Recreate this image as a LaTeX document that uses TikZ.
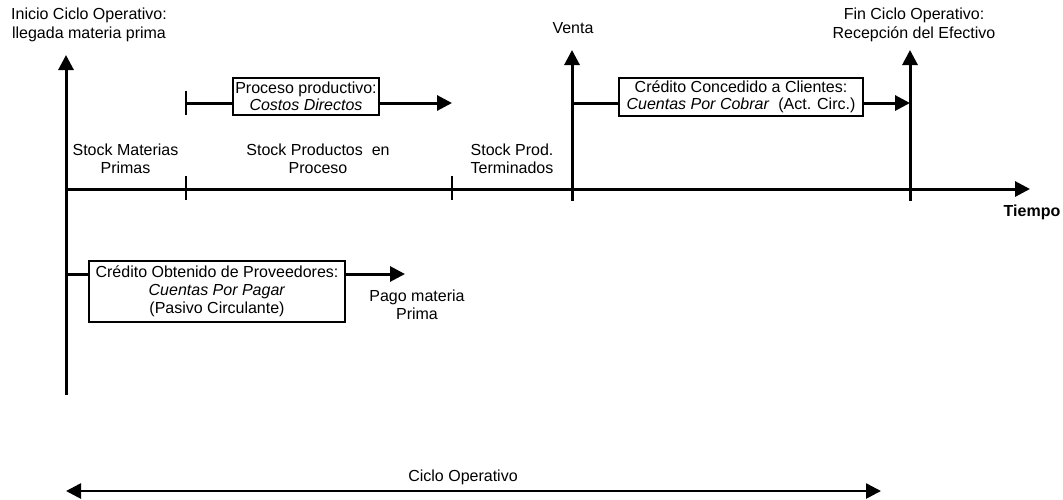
\documentclass[tikz,border=0pt]{standalone}
\usepackage{fontspec}
\setmainfont{Liberation Sans}
\usetikzlibrary{arrows.meta}

\begin{document}
\begin{tikzpicture}[x=0.5pt,y=-0.5pt,
  ax/.style={line width=1.5pt},
  tip/.style={-{Triangle[length=7.5pt,width=7.5pt]}},
  bitip/.style={{Triangle[length=7.5pt,width=7.5pt]}-},
  lbl/.style={font=\fontsize{8}{9}\selectfont, align=center, inner sep=0pt},
  hdr/.style={font=\fontsize{8}{9.5}\selectfont, align=center, inner sep=0pt},
  box/.style={draw, line width=1pt, fill=white, align=center, inner sep=0pt,
              font=\fontsize{8}{8.5}\selectfont}
]
\useasboundingbox (0,0) rectangle (1063,499);

% main axes
\coordinate (axB) at (66,395);
\coordinate (axT) at (66,55);
\coordinate (tS) at (66,189);
\coordinate (tE) at (1030,189);
\draw[ax,tip] (axB) -- (axT);
\draw[ax,tip] (tS) -- (tE);

% ticks on the time axis
\coordinate (k1a) at (186,176); \coordinate (k1b) at (186,200);
\coordinate (k2a) at (452,176); \coordinate (k2b) at (452,200);
\draw[line width=1.2pt] (k1a) -- (k1b);
\draw[line width=1.2pt] (k2a) -- (k2b);

% sale and cash reception events
\coordinate (vB) at (572,201); \coordinate (vT) at (572,50);
\coordinate (fB) at (910,201); \coordinate (fT) at (910,50);
\draw[ax,tip] (vB) -- (vT);
\draw[ax,tip] (fB) -- (fT);

% headings
\node[hdr] (inicio) at (89,24.5) {Inicio Ciclo Operativo:\\llegada materia prima};
\node[hdr] (venta) at (573,28) {Venta};
\node[hdr] (fin) at (914,24.5) {Fin Ciclo Operativo:\\Recepción del Efectivo};
\node[font=\fontsize{8}{9}\selectfont\bfseries, inner sep=0pt] (tiempo) at (1032,212) {Tiempo};

% stock stages
\node[lbl] (smp) at (125.5,159) {Stock Materias\\Primas};
\node[lbl] (spp) at (318,159) {Stock Productos\ \ en\\Proceso};
\node[lbl] (spt) at (512,159) {Stock Prod.\\Terminados};

% production process
\coordinate (pTa) at (186,91); \coordinate (pTb) at (186,115);
\coordinate (pS) at (186,103); \coordinate (pE) at (452,103);
\node[box, minimum width=73pt, minimum height=18.5pt] (pbox) at (306,96.5)
  {Proceso productivo:\\\textit{Costos Directos}};
\draw[line width=1.2pt] (pTa) -- (pTb);
\draw[ax] (pS) -- (pS -| pbox.west);
\draw[ax,tip] (pS -| pbox.east) -- (pE);

% credit granted to customers
\coordinate (cS) at (572,103); \coordinate (cE) at (910,103);
\node[box, minimum width=122pt, minimum height=19pt] (cbox) at (741,97)
  {Crédito Concedido a Clientes:\\\textit{Cuentas Por Cobrar}\ \ (Act. Circ.)};
\draw[ax] (cS) -- (cS -| cbox.west);
\draw[ax,tip] (cS -| cbox.east) -- (cE);

% credit obtained from suppliers
\coordinate (oS) at (66,274); \coordinate (oE) at (405,274);
\node[box, minimum width=128pt, minimum height=30.5pt,
      font=\fontsize{8}{9}\selectfont] (obox) at (217,291.5)
  {Crédito Obtenido de Proveedores:\\\textit{Cuentas Por Pagar}\\(Pasivo Circulante)};
\draw[ax] (oS) -- (oS -| obox.west);
\draw[ax,tip] (oS -| obox.east) -- (oE);
\node[lbl] (pago) at (417,305) {Pago materia\\Prima};

% operating cycle span
\coordinate (cyL) at (66,491); \coordinate (cy1) at (307,491);
\coordinate (cy2) at (621,491); \coordinate (cyR) at (881,491);
\draw[line width=1.3pt,bitip] (cyL) -- (cy1);
\draw[line width=0.7pt] (cy1) -- (cy2);
\draw[line width=1.3pt,tip] (cy2) -- (cyR);
\node[lbl] (ciclo) at (463,477) {Ciclo Operativo};
\end{tikzpicture}
\end{document}
